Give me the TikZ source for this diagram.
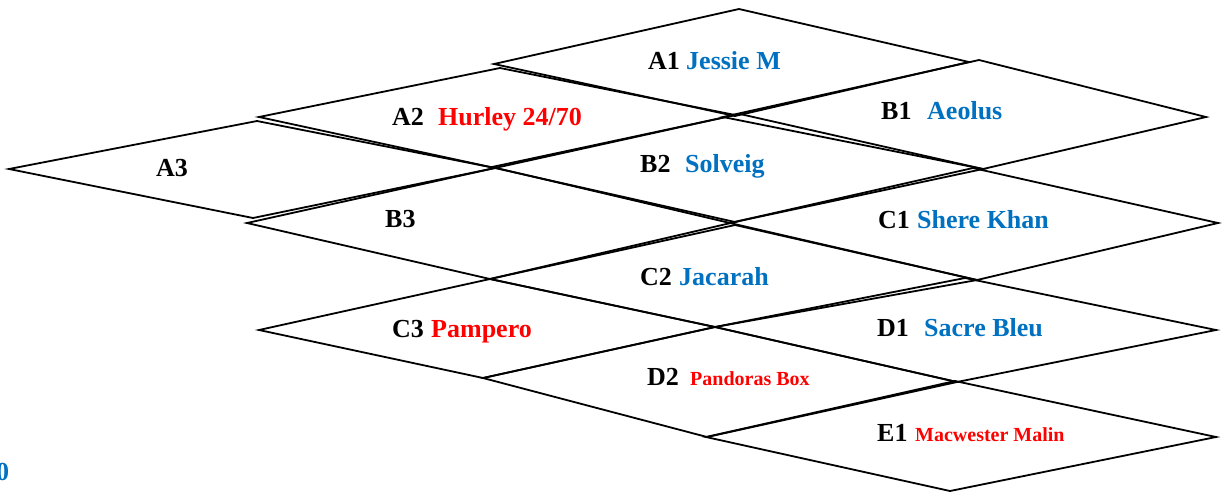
\documentclass[tikz,border=0pt]{standalone}
\usepackage{fontspec}
\setmainfont{Liberation Serif}
\definecolor{nblue}{HTML}{0070C0}
\definecolor{nred}{HTML}{FF0000}
\tikzset{
  dia/.style={draw=black, line width=1.8pt, line join=miter},
  lab/.style={anchor=base west, inner sep=0pt, font=\bfseries\fontsize{26}{28}\selectfont},
  nmb/.style={lab, text=nblue},
  nmr/.style={lab, text=nred},
  nms/.style={anchor=base west, inner sep=0pt, text=nred, font=\bfseries\fontsize{20}{22}\selectfont}
}
\begin{document}
\begin{tikzpicture}[x=1pt,y=-1pt]
\useasboundingbox (0,0) rectangle (1223,491);
% diamonds: left, top, right, bottom
\draw[dia] (494,64) -- (739,9) -- (969,62) -- (735,116) -- cycle; % A1
\draw[dia] (259,117) -- (500,68) -- (735,115) -- (495,168) -- cycle; % A2
\draw[dia] (9,169) -- (257,121) -- (495,168) -- (253,218) -- cycle; % A3
\draw[dia] (723,117) -- (979,60) -- (1206,117) -- (983,169) -- cycle; % B1
\draw[dia] (492,167) -- (740,114) -- (983,169) -- (730,223) -- cycle; % B2
\draw[dia] (247,223) -- (495,168) -- (735,222) -- (490,279) -- cycle; % B3
\draw[dia] (730,223) -- (973,168) -- (1218,223) -- (977,280) -- cycle; % C1
\draw[dia] (490,279) -- (735,225) -- (977,280) -- (715,327) -- cycle; % C2
\draw[dia] (259,330) -- (490,279) -- (715,327) -- (483,378) -- cycle; % C3
\draw[dia] (715,327) -- (965,278) -- (1216,330) -- (957,382) -- cycle; % D1
\draw[dia] (483,378) -- (715,327) -- (957,382) -- (707,437) -- cycle; % D2
\draw[dia] (706,437) -- (955,381) -- (1216,437) -- (950,491) -- cycle; % E1
% labels
\node[lab] (la1) at (648,69) {A1};   \node[nmb] (na1) at (686,69) {Jessie M};
\node[lab] (la2) at (392,125) {A2};  \node[nmr] (na2) at (438,125) {Hurley 24/70};
\node[lab] (la3) at (156,176) {A3};
\node[lab] (lb1) at (881,119) {B1};  \node[nmb] (nb1) at (927,119) {Aeolus};
\node[lab] (lb2) at (640,172) {B2};  \node[nmb] (nb2) at (685,172) {Solveig};
\node[lab] (lb3) at (385,227) {B3};
\node[lab] (lc1) at (878,228) {C1};  \node[nmb] (nc1) at (917,228) {Shere Khan};
\node[lab] (lc2) at (640,285) {C2};  \node[nmb] (nc2) at (679,285) {Jacarah};
\node[lab] (lc3) at (392,337) {C3};  \node[nmr] (nc3) at (431,337) {Pampero};
\node[lab] (ld1) at (877,336) {D1};  \node[nmb] (nd1) at (924,336) {Sacre Bleu};
\node[lab] (ld2) at (647,385) {D2};  \node[nms] (nd2) at (690,385) {Pandoras Box};
\node[lab] (le1) at (877,441) {E1};  \node[nms] (ne1) at (915,441) {Macwester Malin};
\node[nmb] (zero) at (-4,480) {0};
\end{tikzpicture}
\end{document}
